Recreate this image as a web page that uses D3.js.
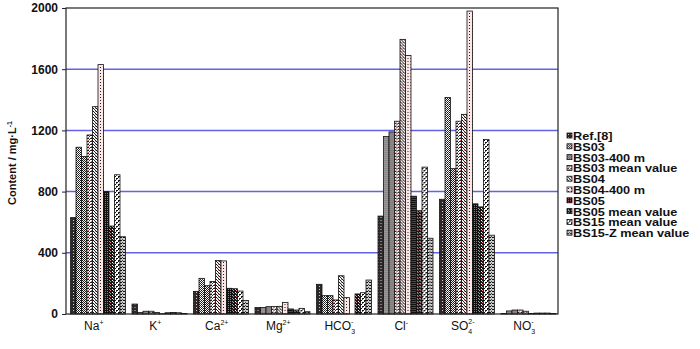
<!DOCTYPE html>
<html>
<head>
<meta charset="utf-8">
<script src="https://cdn.jsdelivr.net/npm/d3@7"></script>
<style>
  body { margin: 0; background: #fff; }
  svg text { font-family: "Liberation Sans", Arial, sans-serif; fill: #111; }
</style>
</head>
<body>
<div id="chart"></div>
<script>
// ions on the x axis
const categories = ["Na", "K", "Ca", "Mg", "HCO3", "Cl", "SO4", "NO3"];
const seriesNames = ["Ref.[8]", "BS03", "BS03-400 m", "BS03 mean value", "BS04",
  "BS04-400 m", "BS05", "BS05 mean value", "BS15 mean value", "BS15-Z mean value"];

// content in mg/L, one array per sample, same order as categories
const ref8     = [630, 65, 148, 42, 194, 640, 750, 3];
const bs03     = [1090, 10, 233, 42, 120, 1160, 1415, 20];
const bs03_400 = [1030, 18, 185, 48, 120, 1190, 950, 26];
const bs03Mean = [1170, 18, 213, 48, 92, 1260, 1260, 26];
const bs04     = [1355, 10, 350, 50, 250, 1795, 1305, 18];
const bs04_400 = [1630, 2, 347, 76, 107, 1690, 1980, 3];
const bs05     = [800, 8, 168, 33, 0, 770, 720, 6];
const bs05Mean = [575, 10, 165, 26, 131, 675, 700, 6];
const bs15Mean = [910, 8, 150, 37, 139, 960, 1140, 6];
const bs15Z    = [505, 3, 88, 15, 222, 495, 515, 3];
const allSeries = [ref8, bs03, bs03_400, bs03Mean, bs04, bs04_400, bs05, bs05Mean, bs15Mean, bs15Z];

const yTicks = [0, 400, 800, 1200, 1600, 2000];

const width = 700;
const height = 349;
const plotLeft = 66, plotRight = 558, plotTop = 8, plotBottom = 314;

const svg = d3.select("#chart").append("svg")
    .attr("width", width)
    .attr("height", height);

// fill patterns, one per sample (scanned halftone look)
const defs = svg.append("defs");
const patternSpecs = [
  { size: 3, bg: "#2a2a2a", dots: [[1, 1, "#f2b8b8"]] },
  { size: 2, bg: "#fff", dots: [[0, 0, "#111"], [1, 1, "#333"]] },
  { size: 2, bg: "#f6eaea", dots: [[0, 0, "#111"], [1, 1, "#222"]] },
  { size: 3, bg: "#fff", dots: [[0, 0, "#222"], [1, 0, "#222"], [2, 1, "#333"], [1, 2, "#c66"]] },
  { size: 3, bg: "#f6f6f6", dots: [[0, 0, "#111"], [1, 1, "#222"], [2, 2, "#222"], [2, 0, "#d88"]] },
  { size: 3, bg: "#fde6e6", dots: [[1, 1, "#222"]] },
  { size: 2, bg: "#111", dots: [[1, 1, "#b66"]] },
  { size: 3, bg: "#161616", dots: [[1, 1, "#fff"], [2, 2, "#e88"]] },
  { size: 4, bg: "#fff", dots: [[0, 0, "#111"], [1, 0, "#111"], [0, 1, "#111"], [2, 2, "#111"], [3, 2, "#111"], [2, 3, "#a33"]] },
  { size: 3, bg: "#ccc", dots: [[0, 0, "#111"], [1, 0, "#111"], [2, 2, "#444"]] }
];
patternSpecs.forEach((p, i) => {
  const pat = defs.append("pattern")
      .attr("id", "pat" + i)
      .attr("patternUnits", "userSpaceOnUse")
      .attr("width", p.size)
      .attr("height", p.size);
  pat.append("rect").attr("width", p.size).attr("height", p.size).attr("fill", p.bg);
  p.dots.forEach(d => {
    pat.append("rect").attr("x", d[0]).attr("y", d[1]).attr("width", 1).attr("height", 1).attr("fill", d[2]);
  });
});

// scales
const x0 = d3.scaleBand().domain(categories).range([plotLeft, plotRight]);
const x1 = d3.scaleBand().domain(d3.range(seriesNames.length)).range([4.5, 59.5]);
const y = d3.scaleLinear().domain([0, 2000]).range([plotBottom, plotTop]);

// gridlines
svg.append("g")
  .selectAll("line")
  .data(yTicks.filter(t => t > 0 && t < 2000))
  .join("line")
    .attr("x1", plotLeft).attr("x2", plotRight)
    .attr("y1", d => y(d)).attr("y2", d => y(d))
    .attr("stroke", "#6262e8")
    .attr("stroke-width", 1.5);

// bars
const groups = svg.append("g")
  .selectAll("g")
  .data(categories)
  .join("g")
    .attr("transform", d => `translate(${x0(d)},0)`);

groups.selectAll("rect")
  .data((c, ci) => allSeries.map((s, si) => ({ si: si, v: s[ci] })))
  .join("rect")
    .attr("x", d => x1(d.si))
    .attr("width", x1.bandwidth())
    .attr("y", d => y(d.v))
    .attr("height", d => plotBottom - y(d.v))
    .attr("fill", d => `url(#pat${d.si})`)
    .attr("stroke", "#111")
    .attr("stroke-width", 0.8);

// frame
svg.append("rect")
    .attr("x", plotLeft).attr("y", plotTop)
    .attr("width", plotRight - plotLeft).attr("height", plotBottom - plotTop)
    .attr("fill", "none")
    .attr("stroke", "#222")
    .attr("stroke-width", 1.2);

// y axis
const yAxis = svg.append("g")
    .attr("transform", `translate(${plotLeft},0)`)
    .call(d3.axisLeft(y).tickValues(yTicks).tickSize(4).tickPadding(4).tickFormat(d3.format("d")));
yAxis.select(".domain").remove();
yAxis.selectAll("line").attr("stroke", "#222");
yAxis.selectAll("text")
    .style("font-family", "'Liberation Sans', Arial, sans-serif")
    .style("font-size", "12px")
    .style("font-weight", "bold")
    .attr("fill", "#111");

svg.append("text")
    .attr("transform", "translate(16,163) rotate(-90)")
    .attr("text-anchor", "middle")
    .style("font-size", "11px")
    .style("font-weight", "bold")
    .text("Content / mg·L")
  .append("tspan")
    .attr("dy", -4)
    .style("font-size", "7px")
    .text("-1");

// x labels with super/subscripts
const labelParts = {
  Na: ["Na", "", "+"], K: ["K", "", "+"], Ca: ["Ca", "", "2+"], Mg: ["Mg", "", "2+"],
  HCO3: ["HCO", "3", "-"], Cl: ["Cl", "", "-"], SO4: ["SO", "4", "2-"], NO3: ["NO", "3", "-"]
};
const xl = svg.append("g")
  .selectAll("text")
  .data(categories)
  .join("text")
    .attr("x", d => x0(d) + x0.bandwidth() / 2 - 3)
    .attr("y", 330)
    .attr("text-anchor", "middle")
    .style("font-size", "12px");
xl.each(function(d) {
  const p = labelParts[d];
  const t = d3.select(this);
  t.append("tspan").text(p[0]);
  if (p[1]) {
    t.append("tspan").attr("dy", 4).style("font-size", "7px").text(p[1]);
    t.append("tspan").attr("dx", -4).attr("dy", -10).style("font-size", "7px").text(p[2]);
  } else {
    t.append("tspan").attr("dy", -5).style("font-size", "7px").text(p[2]);
  }
});

// legend (stretched text like the scanned original)
const legend = svg.append("g")
    .attr("transform", "translate(567,136)");
const items = legend.selectAll("g")
  .data(seriesNames)
  .join("g")
    .attr("transform", (d, i) => `translate(0,${i * 10.8})`);
items.append("rect")
    .attr("x", 0).attr("y", -3)
    .attr("width", 5).attr("height", 5)
    .attr("fill", (d, i) => `url(#pat${i})`)
    .attr("stroke", "#111")
    .attr("stroke-width", 0.8);
items.append("text")
    .attr("transform", "translate(6,4) scale(1.27,1)")
    .style("font-size", "10px")
    .style("font-weight", "bold")
    .text(d => d);
</script>
</body>
</html>
